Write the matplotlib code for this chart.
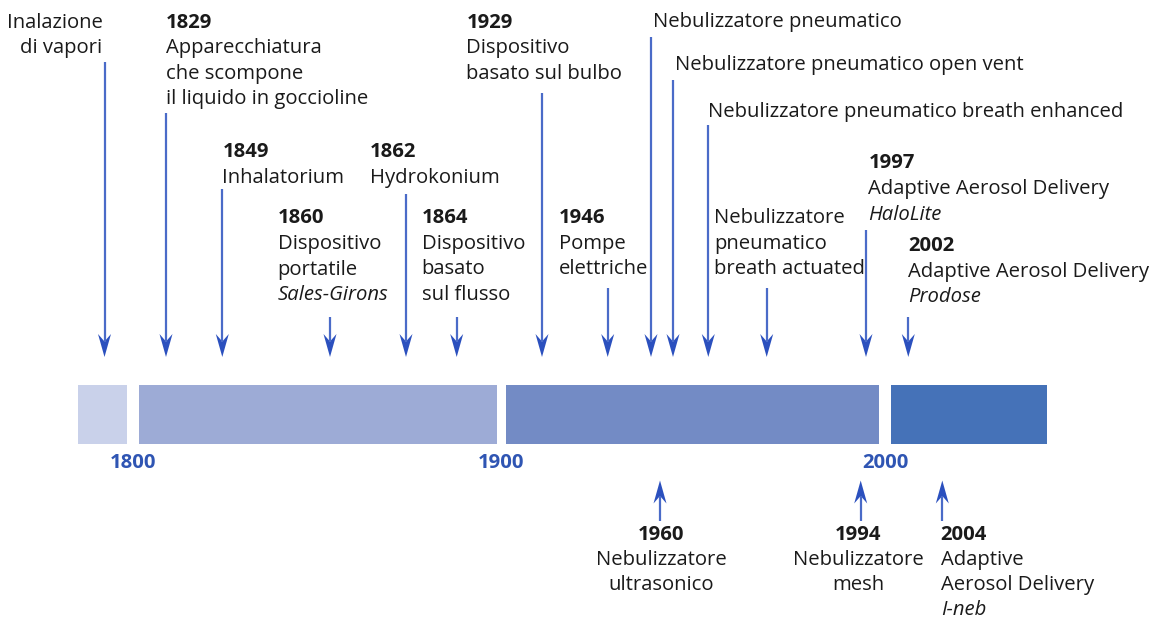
import numpy as np
import matplotlib
matplotlib.use("Agg")
import matplotlib.pyplot as plt

# ---------------- data ----------------
era_start = [1785.0, 1801.6, 1901.2, 2001.6]
era_end = [1798.1, 1898.9, 1998.4, 2042.2]
era_colors = ["#c9d1ea", "#9dabd6", "#738bc5", "#4572b8"]
century_ticks = [1800, 1900, 2000]
century_labels = ["1800", "1900", "2000"]

above_years = ["", "1829", "1849", "1860", "1862", "1864", "1929", "1946",
               "", "", "", "", "1997", "2002"]
above_desc = [
    ["Inalazione", "di vapori"],
    ["Apparecchiatura", "che scompone", "il liquido in goccioline"],
    ["Inhalatorium"],
    ["Dispositivo", "portatile"],
    ["Hydrokonium"],
    ["Dispositivo", "basato", "sul flusso"],
    ["Dispositivo", "basato sul bulbo"],
    ["Pompe", "elettriche"],
    ["Nebulizzatore pneumatico"],
    ["Nebulizzatore pneumatico open vent"],
    ["Nebulizzatore pneumatico breath enhanced"],
    ["Nebulizzatore", "pneumatico", "breath actuated"],
    ["Adaptive Aerosol Delivery"],
    ["Adaptive Aerosol Delivery"],
]
above_product = ["", "", "", "Sales-Girons", "", "", "", "", "", "", "", "",
                 "HaloLite", "Prodose"]

below_years = ["1960", "1994", "2004"]
below_desc = [["Nebulizzatore", "ultrasonico"], ["Nebulizzatore", "mesh"],
              ["Adaptive", "Aerosol Delivery"]]
below_product = ["", "", "I-neb"]

# ---------------- layout (pixels) ----------------
W, H = 1164, 621
above_arrow_x = [104.5, 166, 222.3, 330, 406, 456.7, 542, 607.7, 651, 673,
                 708.3, 766.7, 866, 908.3]
above_arrow_top = [62, 113, 189, 317, 194, 317, 93, 288, 37, 80, 125, 288,
                   230, 317]
above_arrow_tip = 357
above_text_x = [102.5, 166, 222.5, 277.7, 369.5, 421.7, 466.5, 559, 653, 675,
                708.3, 714, 868.3, 908.3]
above_text_ha = ["right"] + ["left"] * 13
above_text_y = [27.5, 27.5, 157, 223.3, 157, 223.3, 27.5, 223.3, 27.3, 70,
                116.7, 223.3, 168.3, 251]

below_arrow_x = [660, 860.7, 942.3]
below_arrow_tip = 480.5
below_arrow_base = 521
below_text_x = [661, 858.5, 940.7]
below_text_ha = ["center", "center", "left"]
below_text_y = 540.5
below_gap = 24.8

line_gap = 25.6
bar_top, bar_bottom = 385, 444.3
tick_baseline = 468

FONT = ["Open Sans", "DejaVu Sans"]
FS = 14.6
TXT = "#1a1a1a"
LINE_C = "#4a6bc8"
HEAD_C = "#2b50be"
TICK_C = "#2f55b3"

anchor_years = np.array([1800.0, 1900.0, 2000.0])
anchor_px = np.array([133.5, 501.5, 885.0])


def year_to_px(y):
    y = np.asarray(y, float)
    s1 = (anchor_px[1] - anchor_px[0]) / 100.0
    s2 = (anchor_px[2] - anchor_px[1]) / 100.0
    return np.where(y < 1900, anchor_px[0] + (y - 1800) * s1,
                    anchor_px[1] + (y - 1900) * s2)


def px_to_year(p):
    p = np.asarray(p, float)
    s1 = (anchor_px[1] - anchor_px[0]) / 100.0
    s2 = (anchor_px[2] - anchor_px[1]) / 100.0
    return np.where(p < anchor_px[1], 1800 + (p - anchor_px[0]) / s1,
                    1900 + (p - anchor_px[1]) / s2)


fig = plt.figure(figsize=(W / 100, H / 100), dpi=100)
fig.patch.set_facecolor("white")

# year axis for the era bars
axy = fig.add_axes([0, 0, 1, 1])
axy.set_xscale("function", functions=(year_to_px, px_to_year))
axy.set_xlim(float(px_to_year(0)), float(px_to_year(W)))
axy.set_ylim(H, 0)
axy.axis("off")
for s, e, c in zip(era_start, era_end, era_colors):
    axy.fill_between([s, e], [bar_top, bar_top], [bar_bottom, bar_bottom],
                     color=c, linewidth=0)
for t, lab in zip(century_ticks, century_labels):
    axy.text(t, tick_baseline, lab, ha="center", va="baseline",
             fontsize=FS, fontweight="bold", color=TICK_C, family=FONT)

# pixel layout axis for annotations
ax = fig.add_axes([0, 0, 1, 1])
ax.set_xlim(0, W)
ax.set_ylim(H, 0)
ax.axis("off")
ax.patch.set_alpha(0)

HEAD_L, HEAD_W, NOTCH = 23, 6.5, 7.5


def arrow(x, y0, y1):
    # line from y0 to tip y1; head at y1
    d = 1 if y1 > y0 else -1
    back = y1 - d * HEAD_L
    notch = y1 - d * (HEAD_L - NOTCH)
    ax.plot([x, x], [y0, notch], color=LINE_C, lw=1.6, solid_capstyle="butt")
    ax.fill([x, x - HEAD_W, x, x + HEAD_W], [y1, back, notch, back],
            color=HEAD_C, linewidth=0)


def block(x, y, ha, year, desc, product, gap):
    lines = []
    if year:
        lines.append((year, "bold", "normal"))
    for d in desc:
        lines.append((d, "normal", "normal"))
    if product:
        lines.append((product, "normal", "italic"))
    for i, (t, w, st) in enumerate(lines):
        ax.text(x, y + i * gap, t, ha=ha, va="baseline", fontsize=FS,
                fontweight=w, fontstyle=st, color=TXT, family=FONT)


for i in range(len(above_years)):
    arrow(above_arrow_x[i], above_arrow_top[i], above_arrow_tip)
    block(above_text_x[i], above_text_y[i], above_text_ha[i],
          above_years[i], above_desc[i], above_product[i], line_gap)

for i in range(len(below_years)):
    arrow(below_arrow_x[i], below_arrow_base, below_arrow_tip)
    block(below_text_x[i], below_text_y, below_text_ha[i],
          below_years[i], below_desc[i], below_product[i], below_gap)

fig.savefig("out.png", dpi=100, facecolor="white")
